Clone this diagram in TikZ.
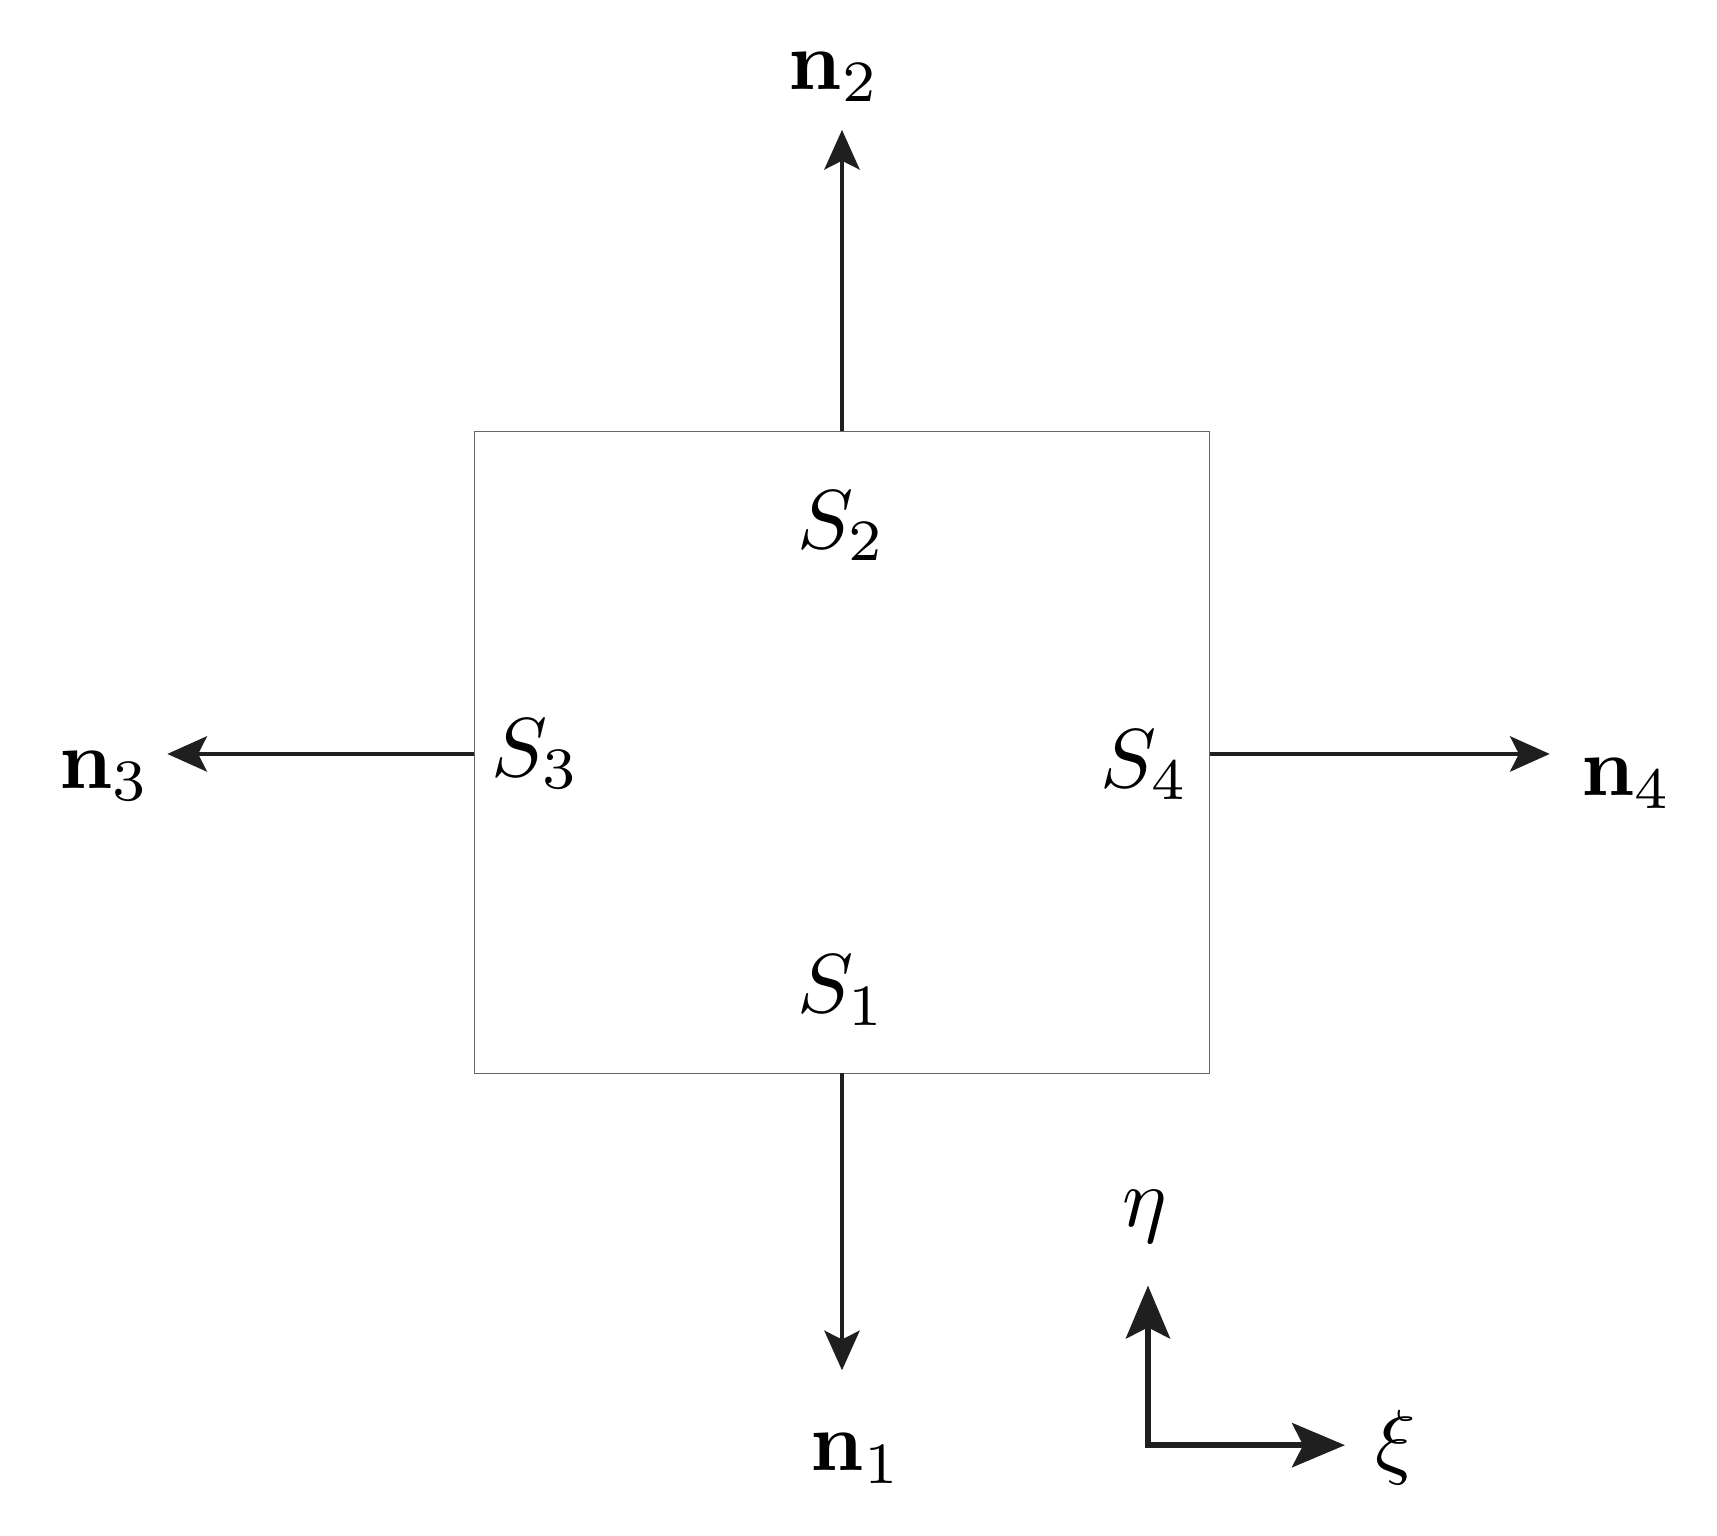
\documentclass[tikz,border=0pt]{standalone}
\usetikzlibrary{arrows.meta}
\begin{document}
\begin{tikzpicture}[x=1pt,y=-1pt,
  lbl/.style={inner sep=0pt, scale=7.6, transform shape=false},
  arr/.style={line width=4pt, color=black!88, -{Stealth[length=36pt,width=32pt,inset=8pt]}},
  axarr/.style={line width=6pt, color=black!88, -{Stealth[length=48pt,width=40pt,inset=10pt]}}]
\useasboundingbox (0,0) rectangle (1560,1395);
\node[draw=black!60, line width=1pt, minimum width=668pt, minimum height=583pt, inner sep=0pt] (box) at (765,683.5) {};
\coordinate (t) at (765,392); \coordinate (b) at (765,975);
\coordinate (l) at (431,685); \coordinate (r) at (1099,685);
\coordinate (n2e) at (765,118); \coordinate (n1e) at (765,1245);
\coordinate (n3e) at (152,685); \coordinate (n4e) at (1408,685);
\draw[arr] (t) -- (n2e);
\draw[arr] (b) -- (n1e);
\draw[arr] (l) -- (n3e);
\draw[arr] (r) -- (n4e);
\node[lbl] (n2) at (758,70) {$\mathbf{n}_2$};
\node[lbl] (n1) at (778,1325) {$\mathbf{n}_1$};
\node[lbl] (n3) at (95,705) {$\mathbf{n}_3$};
\node[lbl] (n4) at (1478,712) {$\mathbf{n}_4$};
\node[lbl] (s2) at (765,478) {$S_2$};
\node[lbl] (s1) at (765,900) {$S_1$};
\node[lbl] (s3) at (487,685) {$S_3$};
\node[lbl] (s4) at (1040,695) {$S_4$};
\coordinate (o) at (1043,1313);
\coordinate (ye) at (1043,1168); \coordinate (xe) at (1222,1313);
\draw[axarr] (o) -- (ye);
\draw[axarr] ([xshift=-3pt]o) -- (xe);
\node[lbl] (eta) at (1040,1105) {$\eta$};
\node[lbl] (xi) at (1268,1315) {$\xi$};
\end{tikzpicture}
\end{document}
